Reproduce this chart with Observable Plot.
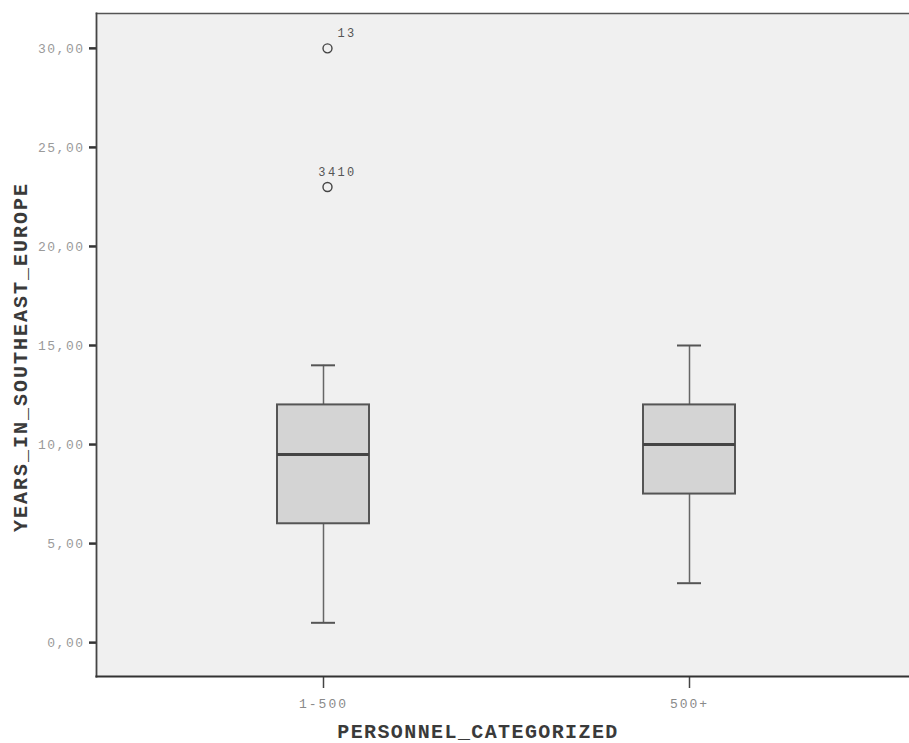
<!DOCTYPE html>
<html>
<head>
<meta charset="utf-8">
<script src="https://cdn.jsdelivr.net/npm/d3@7"></script>
<script src="https://cdn.jsdelivr.net/npm/@observablehq/plot@0.6"></script>
<style>
  html, body { margin: 0; padding: 0; background: #ffffff; }
  svg { display: block; }
</style>
</head>
<body>
<div id="chart"></div>
<script>
// Data
const categories = ["1-500", "500+"];
const whiskerLow  = [1, 3];
const q1          = [6, 7.5];
const median      = [9.5, 10];
const q3          = [12, 12];
const whiskerHigh = [14, 15];
const outlierCategory = ["1-500", "1-500", "1-500"];
const outlierValue    = [30, 23, 23];
const outlierCase     = ["13", "34", "10"];
const yTicks = [0, 5, 10, 15, 20, 25, 30];
const xTitle = "PERSONNEL_CATEGORIZED";
const yTitle = "YEARS_IN_SOUTHEAST_EUROPE";

const boxes = categories.map((c, i) => ({
  cat: c, lo: whiskerLow[i], q1: q1[i], med: median[i], q3: q3[i], hi: whiskerHigh[i]
}));
const outliers = outlierValue.map((v, i) => ({cat: outlierCategory[i], v, label: outlierCase[i]}));
// stacked case labels: first of a pair sits left of the shared anchor, the next to the right
const seen = new Map();
outliers.forEach(o => {
  const k = o.cat + "|" + o.v;
  const n = outliers.filter(p => p.cat === o.cat && p.v === o.v).length;
  const idx = seen.get(k) || 0;
  seen.set(k, idx + 1);
  o.anchor = (n > 1 && idx === 0) ? "end" : "start";
});
const outlierPoints = Array.from(new Map(outliers.map(o => [o.cat + "|" + o.v, o])).values());

const mono = "'Liberation Mono', 'DejaVu Sans Mono', monospace";
const fmt = d => d3.format(".2f")(d).replace(".", ",");

const chart = Plot.plot({
  width: 909,
  height: 743,
  marginLeft: 96,
  marginTop: 13,
  marginBottom: 67,
  marginRight: 0,
  style: {fontFamily: mono, background: "#ffffff"},
  x: {
    type: "band",
    domain: categories,
    range: [96, 916],
    paddingInner: 0.75,
    paddingOuter: 0.495,
    label: null
  },
  y: {domain: [-1.71, 31.76], label: null},
  marks: [
    Plot.frame({fill: "#f0f0f0", stroke: null}),
    // whiskers
    Plot.ruleX(boxes, {x: "cat", y1: "lo", y2: "q1", stroke: "#666", strokeWidth: 1.5}),
    Plot.ruleX(boxes, {x: "cat", y1: "q3", y2: "hi", stroke: "#666", strokeWidth: 1.5}),
    Plot.tickY(boxes, {x: "cat", y: "lo", stroke: "#555", strokeWidth: 2, insetLeft: 34, insetRight: 34}),
    Plot.tickY(boxes, {x: "cat", y: "hi", stroke: "#555", strokeWidth: 2, insetLeft: 34, insetRight: 34}),
    // boxes
    Plot.barY(boxes, {x: "cat", y1: "q1", y2: "q3", fill: "#d4d4d4", stroke: "#555", strokeWidth: 2}),
    Plot.tickY(boxes, {x: "cat", y: "med", stroke: "#444", strokeWidth: 3}),
    // outliers
    Plot.dot(outlierPoints, {x: "cat", y: "v", dx: 4, r: 4.5, stroke: "#444", strokeWidth: 1.4, fill: "none"}),
    Plot.text(outliers.filter(o => o.anchor === "start"), {x: "cat", y: "v", text: "label", dx: 14, dy: -15, textAnchor: "start", fontSize: 12, fill: "#555", fontFamily: mono}),
    Plot.text(outliers.filter(o => o.anchor === "end"), {x: "cat", y: "v", text: "label", dx: 14, dy: -15, textAnchor: "end", fontSize: 12, fill: "#555", fontFamily: mono}),
    // axes
    Plot.axisY({ticks: yTicks, tickFormat: fmt, tickSize: 7, tickPadding: 5, stroke: "#333", strokeWidth: 2.5, fill: "#9a9a9a", fontSize: 13, label: null}),
    Plot.axisX({tickSize: 12, tickPadding: 10, stroke: "#444", strokeWidth: 1.5, fill: "#8a8a8a", fontSize: 13, label: null}),
    // frame lines
    Plot.frame({anchor: "top", stroke: "#555", strokeWidth: 1.5}),
    Plot.frame({anchor: "left", stroke: "#444", strokeWidth: 1.8}),
    Plot.frame({anchor: "bottom", stroke: "#333", strokeWidth: 2.2})
  ]
});

const svg = d3.select(chart);
// letter spacing for the wide, monospaced tick labels
svg.selectAll('g[aria-label="y-axis tick label"] text').attr("letter-spacing", 1.5);
svg.selectAll('g[aria-label="x-axis tick label"] text').attr("letter-spacing", 2);
svg.selectAll('g[aria-label="text"] text').attr("letter-spacing", 2.4);

// axis titles
svg.append("text")
  .attr("transform", "translate(22,357) rotate(-90)")
  .attr("text-anchor", "middle")
  .attr("dominant-baseline", "middle")
  .attr("font-family", mono)
  .attr("font-size", 20)
  .attr("font-weight", "bold")
  .attr("letter-spacing", 2)
  .attr("fill", "#3a3a3a")
  .text(yTitle);
svg.append("text")
  .attr("x", 478)
  .attr("y", 733)
  .attr("text-anchor", "middle")
  .attr("dominant-baseline", "middle")
  .attr("font-family", mono)
  .attr("font-size", 20)
  .attr("font-weight", "bold")
  .attr("letter-spacing", 1.4)
  .attr("fill", "#3a3a3a")
  .text(xTitle);

document.getElementById("chart").append(chart);
</script>
</body>
</html>
